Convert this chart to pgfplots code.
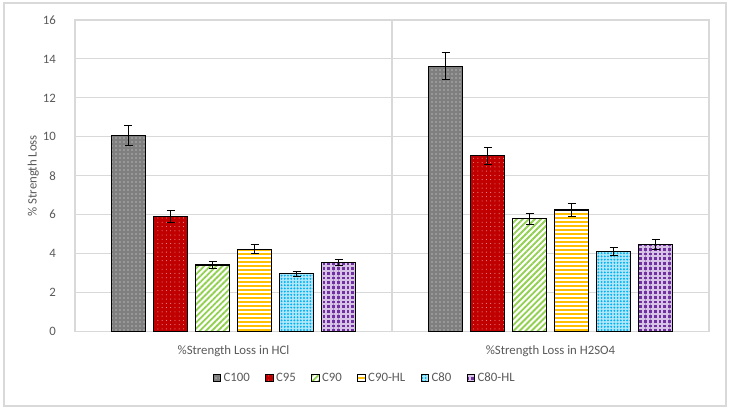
\documentclass[border=0pt]{standalone}
\usepackage{fontspec}
\setmainfont{Carlito}
\usepackage{pgfplots}
\pgfplotsset{compat=1.18}
\usetikzlibrary{patterns.meta}
\definecolor{cgrey}{HTML}{7F7F7F}
\definecolor{cred}{HTML}{C00000}
\definecolor{cgreen}{HTML}{92D050}
\definecolor{cgold}{HTML}{FFC000}
\definecolor{ccyan}{HTML}{00B0F0}
\definecolor{cpurple}{HTML}{7030A0}
\definecolor{cpurplelight}{HTML}{D6C3E6}
\definecolor{gridc}{HTML}{D9D9D9}
\definecolor{textc}{HTML}{595959}
\newcommand\ff{\fontsize{9.6}{11.5}\selectfont}
\begin{document}
\ff
\begin{tikzpicture}
\begin{axis}[
  name=ax, at={(0,0)}, anchor=south west,
  scale only axis, width=475.5pt, height=233.6pt,
  /pgf/number format/assume math mode=true,
  ybar=6pt, bar width=25.5pt,
  xmin=-0.5, xmax=1.5, ymin=0, ymax=16,
  ytick={0,2,...,16},
  xtick={0,1},
  xticklabels={\%Strength Loss in HCl, \%Strength Loss in H2SO4},
  extra x ticks={0.5}, extra x tick labels={},
  extra x tick style={grid=major, major grid style={gridc, line width=0.8pt}},
  major tick length=0pt,
  ymajorgrids, major grid style={gridc, line width=0.8pt},
  axis line style={gridc, line width=0.8pt},
  tick label style={textc, font=\ff},
  yticklabel style={xshift=-11pt},
  xticklabel style={yshift=-7pt},
  ylabel={\ff\% Strength Loss},
  ylabel style={textc, font=\ff, at={(axis description cs:-0.066,0.5)}, anchor=center},
  legend columns=6,
  legend style={draw=none, fill=none, at={(axis description cs:0.4574,-0.149)}, anchor=center,
    font=\ff\color{textc},
    /tikz/every even column/.append style={column sep=9.5pt}},
  legend image code/.code={\draw[#1, draw=black, line width=0.6pt] (0pt,-2.8pt) rectangle (5.6pt,2.8pt);},
  error bars/y dir=both, error bars/y explicit,
  error bars/error bar style={black, line width=0.6pt},
  error bars/error mark options={rotate=90, mark size=3pt, black, line width=0.6pt},
]
\addplot[draw=black, line width=0.9pt, fill=cgrey,
  postaction={pattern={Dots[distance=3pt, radius=0.45pt]}, pattern color=white!85!cgrey}]
  coordinates {(0,10.08) +- (0,0.5) (1,13.63) +- (0,0.7)};
\addplot[draw=black, line width=0.9pt, fill=cred,
  postaction={pattern={Dots[distance=3.2pt, radius=0.4pt]}, pattern color=white!60!cred}]
  coordinates {(0,5.92) +- (0,0.3) (1,9.02) +- (0,0.45)};
\addplot[draw=black, line width=0.9pt, fill=white,
  postaction={pattern={Lines[angle=45, distance=3.2pt, line width=1.4pt]}, pattern color=cgreen}]
  coordinates {(0,3.41) +- (0,0.17) (1,5.80) +- (0,0.28)};
\addplot[draw=black, line width=0.9pt, fill=white,
  postaction={pattern={Lines[angle=0, distance=3pt, line width=1.7pt]}, pattern color=cgold}]
  coordinates {(0,4.23) +- (0,0.23) (1,6.24) +- (0,0.32)};
\addplot[draw=black, line width=0.9pt, fill=ccyan!30,
  postaction={pattern={Dots[distance=2.4pt, radius=0.8pt]}, pattern color=ccyan}]
  coordinates {(0,2.97) +- (0,0.12) (1,4.12) +- (0,0.21)};
\addplot[draw=black, line width=0.9pt, fill=cpurple,
  postaction={pattern={Hatch[distance=3.6pt, line width=1.5pt]}, pattern color=cpurplelight}]
  coordinates {(0,3.55) +- (0,0.17) (1,4.46) +- (0,0.25)};
\legend{C100, C95, C90, C90-HL, C80, C80-HL}
\end{axis}
\useasboundingbox ([shift={(-56.25pt,-58.9pt)}]ax.south west) rectangle ([shift={(16.5pt,15pt)}]ax.north east);
\draw[gridc, line width=0.8pt] ([shift={(-53.25pt,-55.9pt)}]ax.south west) rectangle ([shift={(12.75pt,12.75pt)}]ax.north east);
\end{tikzpicture}
\end{document}
